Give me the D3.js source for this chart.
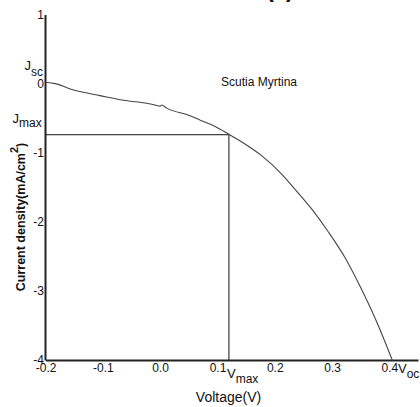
<!DOCTYPE html>
<html>
<head>
<meta charset="utf-8">
<script src="https://cdn.jsdelivr.net/npm/d3@7"></script>
<style>
  html, body { margin: 0; padding: 0; background: #fff; }
  svg { display: block; font-family: "Liberation Sans", Arial, sans-serif; }
</style>
</head>
<body>
<svg id="chart" width="420" height="407"></svg>
<script>
// ---- data ----
const voltage = [-0.200, -0.183, -0.157, -0.105, -0.052, -0.035, -0.009, 0.000, 0.003, 0.010,
                 0.052, 0.070, 0.096, 0.119, 0.148, 0.177, 0.212, 0.235, 0.264, 0.293,
                 0.322, 0.351, 0.378, 0.405];
const current = [0.02, 0.00, -0.077, -0.174, -0.256, -0.271, -0.31, -0.326, -0.31, -0.348,
                 -0.464, -0.53, -0.62, -0.73, -0.874, -1.043, -1.309, -1.526, -1.81, -2.14,
                 -2.51, -2.97, -3.45, -4.0];
const xTicks = [-0.2, -0.1, 0.0, 0.1, 0.2, 0.3, 0.4];
const xTickLabels = ["-0.2", "-0.1", "0.0", "0.1", "0.2", "0.3", "0.4"];
const yTicks = [1, 0, -1, -2, -3, -4];
const yTickLabels = ["1", "0", "-1", "-2", "-3", "-4"];
const Vmax = 0.12;
const Jmax = -0.74;
const seriesName = "Scutia Myrtina";

const svg = d3.select("#chart");
const x = d3.scaleLinear().domain([-0.2, 0.45]).range([45.6, 418]);
const y = d3.scaleLinear().domain([-4, 1]).range([360, 14.5]);

// panel tag (cut off at the top)
svg.append("text").attr("x", 280).attr("y", -3.5).attr("text-anchor", "middle")
  .attr("font-size", 22).attr("font-weight", "bold").text("(c)");

// axes
const xAxis = svg.append("g").attr("transform", `translate(0,${y(-4)})`)
  .call(d3.axisBottom(x).tickValues(xTicks).tickSize(0).tickPadding(3)
    .tickFormat((d, i) => xTickLabels[i]));
const yAxis = svg.append("g").attr("transform", `translate(${x(-0.2) - 0.6},0)`)
  .call(d3.axisLeft(y).tickValues(yTicks).tickSize(0).tickPadding(1)
    .tickFormat((d, i) => yTickLabels[i]));
[xAxis, yAxis].forEach(g => {
  g.select(".domain").attr("stroke", "#222").attr("stroke-width", 2);
  g.selectAll("text").attr("font-size", 12).attr("fill", "#111")
    .attr("font-family", "'Liberation Sans', Arial, sans-serif");
});

// Jmax / Vmax guide lines
svg.append("line").attr("x1", x(-0.2)).attr("x2", x(Vmax))
  .attr("y1", y(Jmax)).attr("y2", y(Jmax)).attr("stroke", "#111").attr("stroke-width", 1);
svg.append("line").attr("x1", x(Vmax)).attr("x2", x(Vmax))
  .attr("y1", y(Jmax)).attr("y2", y(-4)).attr("stroke", "#111").attr("stroke-width", 1);

// J-V curve
const pts = voltage.map((v, i) => [v, current[i]]);
svg.append("path").datum(pts)
  .attr("fill", "none").attr("stroke", "#444").attr("stroke-width", 1.1)
  .attr("d", d3.line().x(d => x(d[0])).y(d => y(d[1])).curve(d3.curveMonotoneX));

// series label
svg.append("text").attr("x", 259).attr("y", 86).attr("text-anchor", "middle")
  .attr("font-size", 12).attr("fill", "#111").text(seriesName);

// special labels
function subLabel(px, py, main, sub, dy, anchor) {
  const t = svg.append("text").attr("x", px).attr("y", py)
    .attr("font-size", 13).attr("fill", "#111").attr("text-anchor", anchor || "start");
  t.append("tspan").text(main);
  t.append("tspan").attr("dy", dy).attr("font-size", 12).text(sub);
}
subLabel(24.5, 70, "J", "sc", 6);
subLabel(12.5, 123, "J", "max", 4);
subLabel(227, 378, "V", "max", 5);
subLabel(398, 373, "V", "oc", 5);

// axis titles
svg.append("text").attr("x", 228.5).attr("y", 402).attr("text-anchor", "middle")
  .attr("font-size", 14).attr("fill", "#111").text("Voltage(V)");
const yt = svg.append("text")
  .attr("transform", "translate(25,217) rotate(-90)")
  .attr("text-anchor", "middle").attr("font-size", 12.5).attr("font-weight", "bold").attr("fill", "#111");
yt.append("tspan").text("Current density(mA/cm");
yt.append("tspan").attr("dy", -7).attr("font-size", 11).text("2");
yt.append("tspan").attr("dy", 7).text(")");
</script>
</body>
</html>
